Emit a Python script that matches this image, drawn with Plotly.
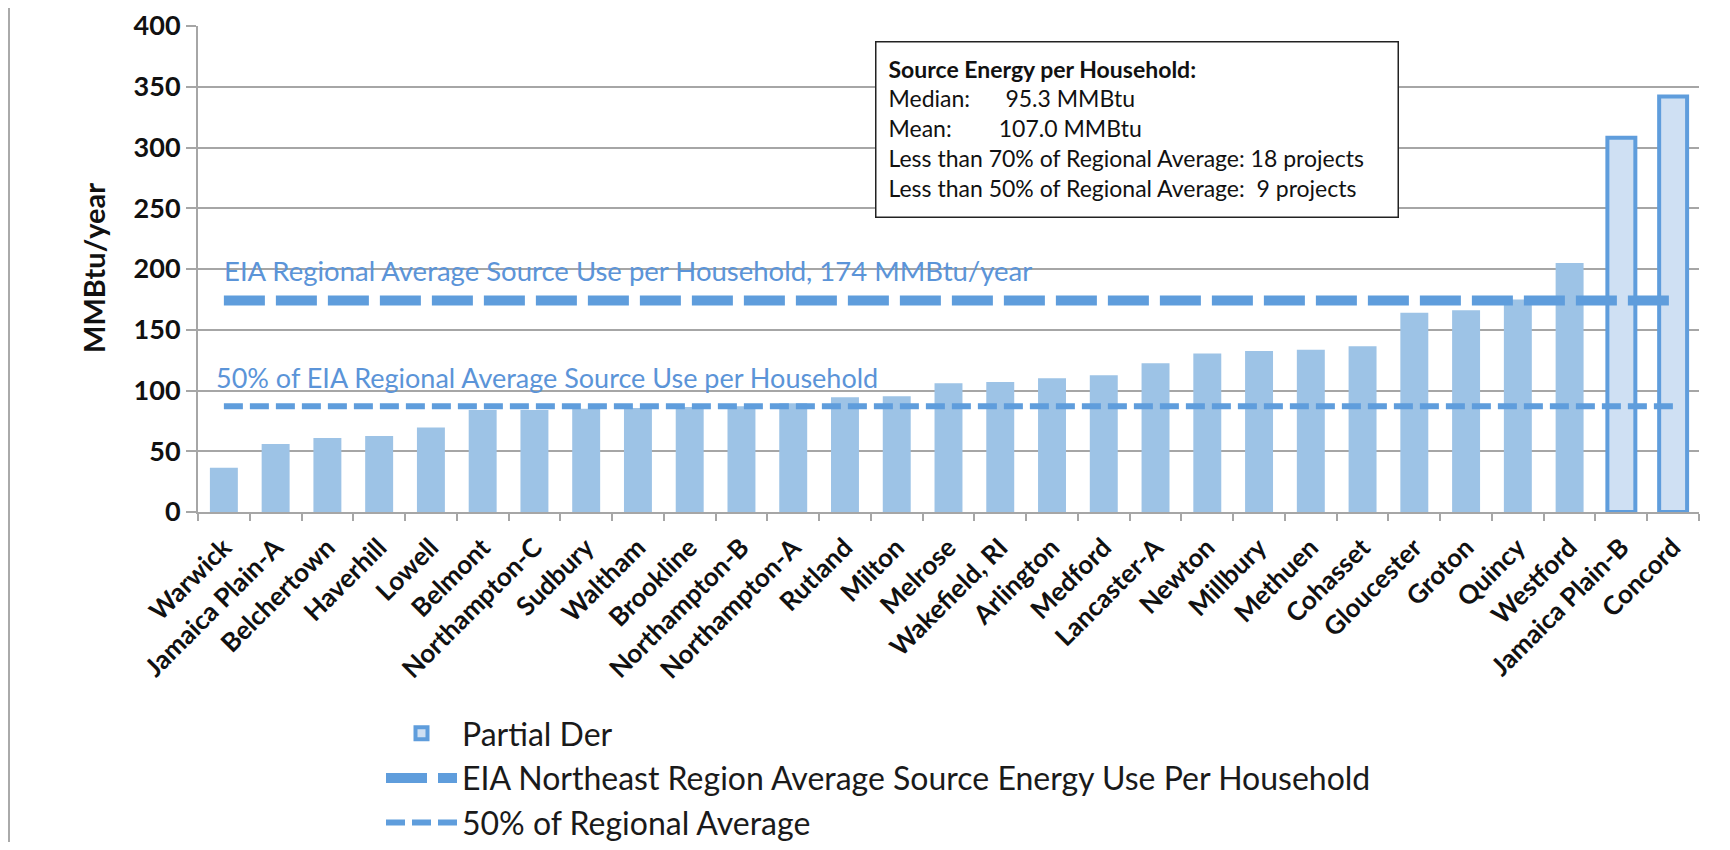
import plotly.graph_objects as go

# ---------------- data ----------------
categories = ["Warwick", "Jamaica Plain-A", "Belchertown", "Haverhill", "Lowell", "Belmont",
              "Northampton-C", "Sudbury", "Waltham", "Brookline", "Northampton-B", "Northampton-A",
              "Rutland", "Milton", "Melrose", "Wakefield, RI", "Arlington", "Medford", "Lancaster-A",
              "Newton", "Millbury", "Methuen", "Cohasset", "Gloucester", "Groton", "Quincy",
              "Westford", "Jamaica Plain-B", "Concord"]

full_values = [36.5, 56, 61, 62.5, 69.5, 84, 84, 85, 85.5, 86.5, 87, 89.5,
               94.5, 95.3, 106, 107, 110, 112.5, 122.5, 130.5, 132.5, 133.5, 136.5,
               164, 166, 175, 205, None, None]

partial_values = [None] * 27 + [308, 342]

EIA_AVG = 174
HALF_AVG = 87
eia_line = [EIA_AVG] * len(categories)
half_line = [HALF_AVG] * len(categories)

y_ticks = [0, 50, 100, 150, 200, 250, 300, 350, 400]

box_lines = ["<b>Source Energy per Household:</b>",
             "Median:\u00a0\u00a0\u00a0\u00a0\u00a0\u00a095.3 MMBtu",
             "Mean:\u00a0\u00a0\u00a0\u00a0\u00a0\u00a0\u00a0\u00a0107.0 MMBtu",
             "Less than 70% of Regional Average: 18 projects",
             "Less than 50% of Regional Average:\u00a0\u00a09 projects"]

# ---------------- style ----------------
FONT = "Lato"
BAR_COLOR = "#9DC3E6"
PARTIAL_FILL = "#CFE0F3"
LINE_BLUE = "#5F9DDC"
TEXT_BLUE = "#5B94D8"
GRID = "#A6A6A6"

OFF = 8                      # default page margin of the html body
W, H = 1730 - 2 * OFF, 850 - 2 * OFF
# plot area in screen pixels
SX0, SX1, SY0, SY1 = 198, 1699, 26, 512
L = SX0 - OFF
R = W - (SX1 - OFF)
T = SY0 - OFF
B = H - (SY1 - OFF)
plot_w = W - L - R
plot_h = H - T - B


def px_to_paper_x(sx):
    return (sx - OFF - L) / plot_w


def px_to_paper_y(sy):
    return (H - B - (sy - OFF)) / plot_h


fig = go.Figure()

fig.add_trace(go.Bar(
    x=categories, y=full_values, name="Full Der",
    marker=dict(color=BAR_COLOR, line=dict(width=0)),
    showlegend=False,
))
fig.add_trace(go.Bar(
    x=categories, y=partial_values, name="Partial Der",
    marker=dict(color=PARTIAL_FILL, line=dict(color=LINE_BLUE, width=4)),
))
fig.add_trace(go.Scatter(
    x=categories, y=eia_line, mode="lines",
    name="EIA Northeast Region Average Source Energy Use Per Household",
    line=dict(color=LINE_BLUE, width=10, dash="41px,11px"),
))
fig.add_trace(go.Scatter(
    x=categories, y=half_line, mode="lines",
    name="50% of Regional Average",
    line=dict(color=LINE_BLUE, width=6, dash="19px,7px"),
))

BOX_PAD = 12
BOX_BW = 1.5
annotations = [
    dict(text="<b>MMBtu/year</b>", textangle=-90,
         xref="paper", yref="paper", x=px_to_paper_x(93), y=px_to_paper_y(268),
         xanchor="center", yanchor="middle", showarrow=False,
         font=dict(family=FONT, size=29, color="#111111")),
    dict(text="EIA Regional Average Source Use per Household, 174 MMBtu/year",
         xref="paper", yref="y", x=px_to_paper_x(222), y=199,
         xanchor="left", yanchor="middle", showarrow=False,
         font=dict(family=FONT, size=27.5, color=TEXT_BLUE)),
    dict(text="50% of EIA Regional Average Source Use per Household",
         xref="paper", yref="y", x=px_to_paper_x(214), y=111,
         xanchor="left", yanchor="middle", showarrow=False,
         font=dict(family=FONT, size=27, color=TEXT_BLUE)),
    dict(text="<br>".join(box_lines),
         xref="paper", yref="paper", x=px_to_paper_x(875), y=px_to_paper_y(41),
         xanchor="left", yanchor="top", showarrow=False, align="left", valign="top",
         width=524 - 2 * (BOX_PAD + BOX_BW), height=177 - 2 * (BOX_PAD + BOX_BW),
         borderpad=BOX_PAD, borderwidth=BOX_BW,
         bordercolor="#222222", bgcolor="white",
         font=dict(family=FONT, size=23, color="#111111")),
]

shapes = [
    dict(type="line", xref="paper", yref="paper",
         x0=px_to_paper_x(9), x1=px_to_paper_x(9),
         y0=px_to_paper_y(850), y1=px_to_paper_y(8),
         line=dict(color="#AAAAAA", width=2)),
]

fig.update_layout(
    width=W, height=H,
    margin=dict(l=L, r=R, t=T, b=B, autoexpand=False),
    paper_bgcolor="white", plot_bgcolor="white",
    barmode="overlay", bargap=0.46,
    font=dict(family=FONT, color="#111111"),
    annotations=annotations, shapes=shapes,
    legend=dict(
        x=(381 - OFF) / W, y=1 - (706 - OFF) / H,
        xref="container", yref="container", xanchor="left", yanchor="top",
        font=dict(family=FONT, size=32, color="#1a1a1a"),
        bgcolor="rgba(0,0,0,0)", traceorder="normal",
        itemwidth=71, tracegroupgap=0,
    ),
)

fig.update_xaxes(
    type="category", tickangle=-45, tickson="boundaries", automargin=False,
    ticks="outside", ticklen=7, tickwidth=2, tickcolor=GRID,
    showline=True, linecolor=GRID, linewidth=2,
    showgrid=False, ticklabelstandoff=8,
    tickfont=dict(family=FONT, size=26, color="#111111", weight="bold"),
)
fig.update_yaxes(
    range=[0, 400], tickvals=y_ticks, automargin=False,
    ticks="outside", ticklen=10, tickwidth=2, tickcolor=GRID,
    showline=True, linecolor=GRID, linewidth=2,
    showgrid=True, gridcolor=GRID, gridwidth=2, zeroline=False,
    ticklabeloverflow="allow",
    ticksuffix="\u00a0\u00a0\u00a0",
    tickfont=dict(family=FONT, size=27, color="#111111", weight="bold"),
)

fig.write_html("out.html")
